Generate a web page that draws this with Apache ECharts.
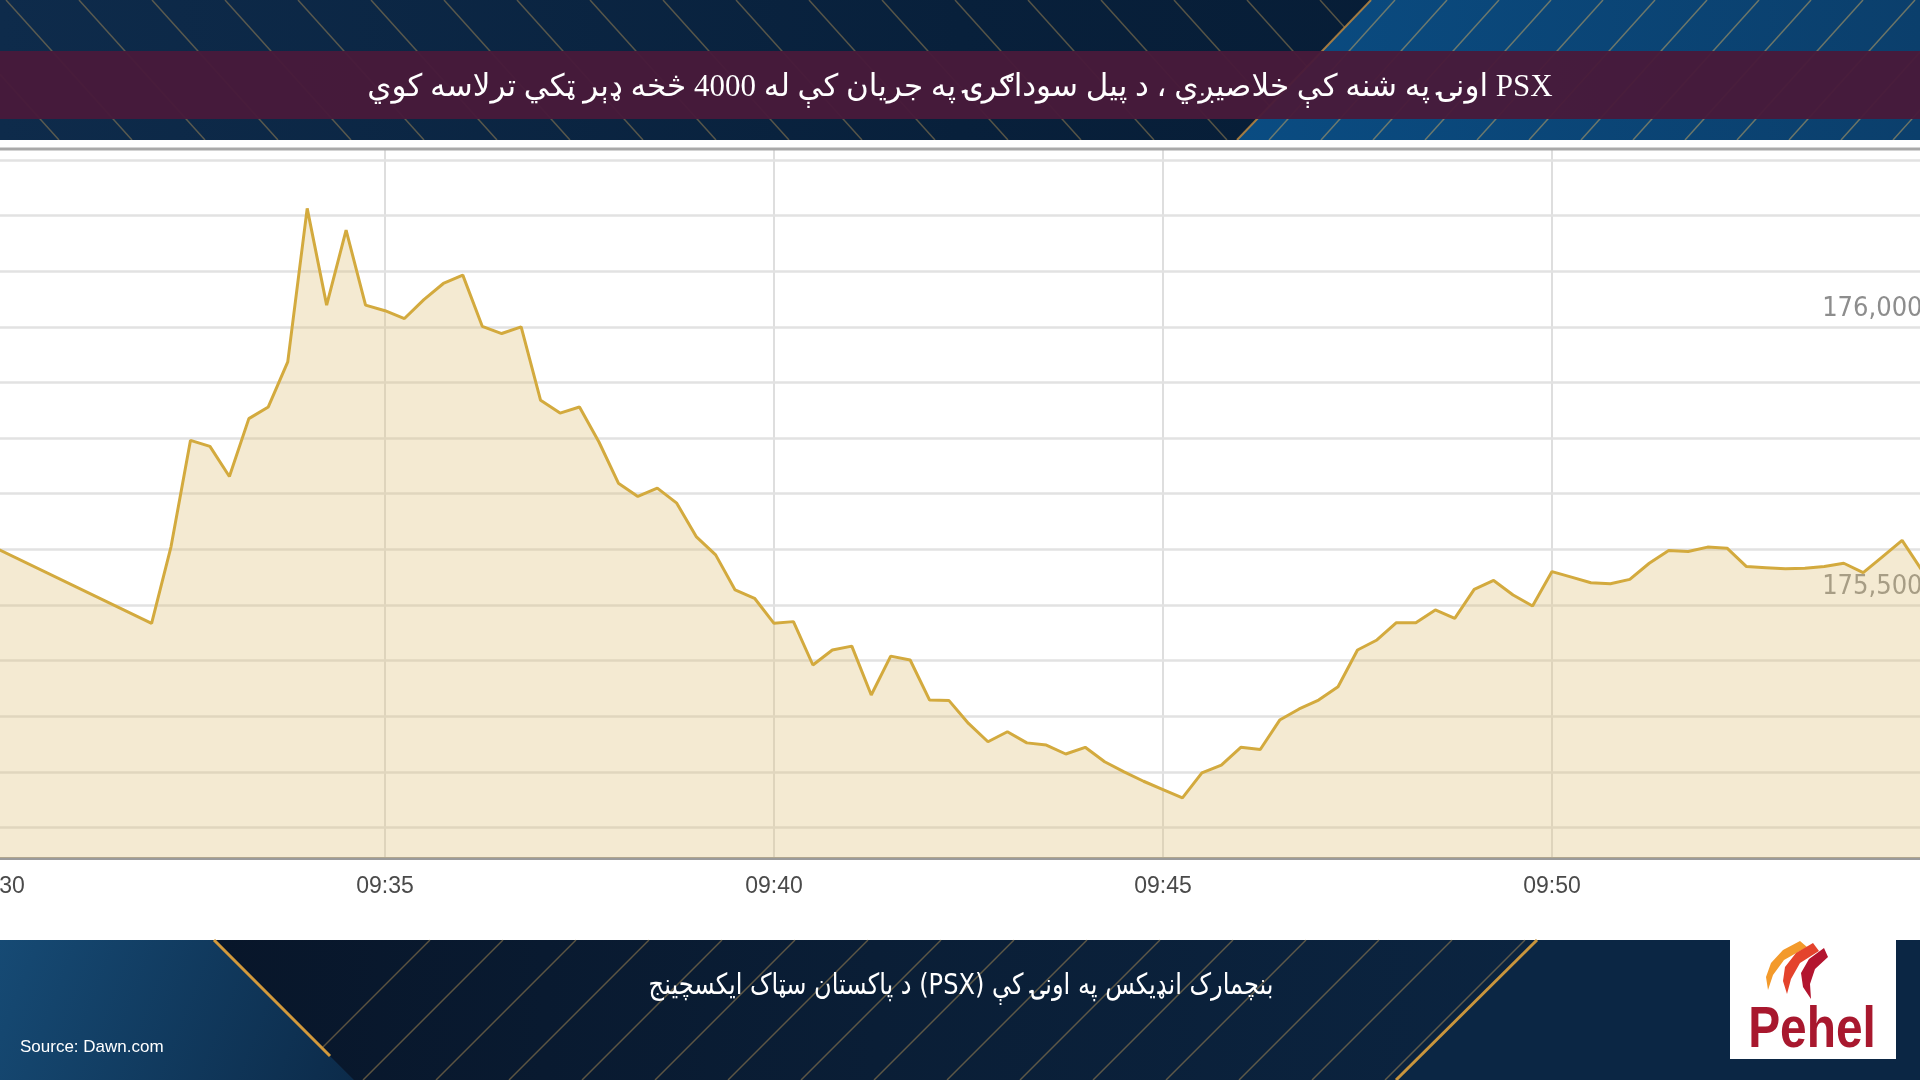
<!DOCTYPE html>
<html>
<head>
<meta charset="utf-8">
<script src="https://cdn.jsdelivr.net/npm/echarts@6/dist/echarts.min.js"></script>
<style>
html,body{margin:0;padding:0;background:#fff;}
#chart{width:1920px;height:1080px;direction:rtl;}
</style>
</head>
<body>
<div id="chart" dir="rtl"></div>
<script>
// ---------- texts ----------
const titleText = 'PSX اونۍ په شنه کې خلاصیږي ، د پیل سوداګرۍ په جریان کې له 4000 څخه ډېر ټکي ترلاسه کوي';
const captionText = 'بنچمارک انډیکس په اونۍ کې (PSX) د پاکستان سټاک ایکسچینج';
const sourceText = 'Source: Dawn.com';
const brandText = 'Pehel';

// ---------- data ----------
const times = [
 '09:30:00',
 '09:32:00','09:32:15','09:32:30','09:32:45',
 '09:33:00','09:33:15','09:33:30','09:33:45',
 '09:34:00','09:34:15','09:34:30','09:34:45',
 '09:35:00','09:35:15','09:35:30','09:35:45',
 '09:36:00','09:36:15','09:36:30','09:36:45',
 '09:37:00','09:37:15','09:37:30','09:37:45',
 '09:38:00','09:38:15','09:38:30','09:38:45',
 '09:39:00','09:39:15','09:39:30','09:39:45',
 '09:40:00','09:40:15','09:40:30','09:40:45',
 '09:41:00','09:41:15','09:41:30','09:41:45',
 '09:42:00','09:42:15','09:42:30','09:42:45',
 '09:43:00','09:43:15','09:43:30','09:43:45',
 '09:44:00','09:44:15','09:44:30','09:44:45',
 '09:45:00','09:45:15','09:45:30','09:45:45',
 '09:46:00','09:46:15','09:46:30','09:46:45',
 '09:47:00','09:47:15','09:47:30','09:47:45',
 '09:48:00','09:48:15','09:48:30','09:48:45',
 '09:49:00','09:49:15','09:49:30','09:49:45',
 '09:50:00','09:50:15','09:50:30','09:50:45',
 '09:51:00','09:51:15','09:51:30','09:51:45',
 '09:52:00','09:52:15','09:52:30','09:52:45',
 '09:53:00','09:53:15','09:53:30','09:53:45',
 '09:54:00','09:54:15','09:54:30','09:54:45'
];
const values = [
 175602,
 175467,175605,175796,175785,
 175731,175835,175856,175937,
 176213,176039,176174,176039,
 176029,176015,176049,176078,
 176093,176001,175988,176000,
 175868,175845,175856,175793,
 175719,175695,175710,175683,
 175623,175590,175527,175512,
 175467,175470,175392,175419,
 175426,175338,175408,175401,
 175329,175328,175287,175254,
 175272,175252,175248,175232,
 175244,175218,175200,175183,
 175168,175153,175198,175212,
 175244,175240,175293,175313,
 175329,175353,175419,175437,
 175468,175468,175491,175476,
 175528,175544,175518,175498,
 175560,175550,175540,175538,
 175546,175575,175598,175596,
 175604,175602,175569,175567,
 175565,175566,175569,175575,
 175558,175587,175616,175563
];
const xTickLabels = ['09:30','09:35','09:40','09:45','09:50'];
const xRange = ['09:30:00','09:54:45'];
const yRange = [175045, 176318];
const yGridValues = [175100,175200,175300,175400,175500,175600,175700,175800,175900,176000,176100,176200,176300];
const yTickLabels = [175500, 176000];

// ---------- helpers ----------
function toMin(t){ const p = t.split(':').map(Number); return p[0]*60 + p[1] + (p[2]||0)/60; }
const seriesData = times.map((t,i)=>[toMin(t), values[i]]);

const graphics = [];
let zc = 0;
function add(el){ el.z2 = zc++; el.silent = true; graphics.push(el); }

// header
add({type:'rect', shape:{x:0,y:0,width:1920,height:140},
  style:{fill:new echarts.graphic.LinearGradient(0,0,1,0,[{offset:0,color:'#0e2b4b'},{offset:0.5,color:'#08203b'},{offset:1,color:'#061a31'}])}});
add({type:'polygon', shape:{points:[[1371,0],[1920,0],[1920,140],[1237,140]]},
  style:{fill:new echarts.graphic.LinearGradient(0,0,1,0,[{offset:0,color:'#0a4c82'},{offset:1,color:'#0b3f6c'}])}});
for (let x0 = -140; x0 < 1371; x0 += 73) {
  let yEnd = 140;
  const yi = (1371 - x0) / 1.857;
  if (yi < yEnd) yEnd = yi;
  add({type:'line', shape:{x1:x0, y1:0, x2:x0 + 0.9*yEnd, y2:yEnd}, style:{stroke:'rgba(196,158,88,0.42)', lineWidth:1.5}});
}
for (let x0 = 1395; x0 < 2100; x0 += 52) {
  add({type:'line', shape:{x1:x0, y1:0, x2:x0 - 126, y2:140}, style:{stroke:'rgba(205,170,95,0.5)', lineWidth:1.5}});
}
add({type:'line', shape:{x1:1371,y1:0,x2:1237,y2:140}, style:{stroke:'rgba(200,140,60,0.8)', lineWidth:2}});
add({type:'rect', shape:{x:0,y:51,width:1920,height:68}, style:{fill:'rgba(72,26,58,0.96)'}});
// chart frame top border
add({type:'rect', shape:{x:0,y:140,width:1920,height:10}, style:{fill:'#ffffff'}});
add({type:'line', shape:{x1:0,y1:149,x2:1920,y2:149}, style:{stroke:'#a9a9a9', lineWidth:3}});

// footer
add({type:'rect', shape:{x:0,y:940,width:1920,height:140}, style:{fill:'#0b2644'}});
add({type:'polygon', shape:{points:[[0,940],[214,940],[354,1080],[0,1080]]},
  style:{fill:new echarts.graphic.LinearGradient(0,0,1,1,[{offset:0,color:'#164a74'},{offset:1,color:'#0c2b4a'}])}});
add({type:'polygon', shape:{points:[[214,940],[1537,940],[1396,1080],[354,1080]]},
  style:{fill:new echarts.graphic.LinearGradient(0,0,1,0,[{offset:0,color:'#08162a'},{offset:0.5,color:'#0a1e36'},{offset:1,color:'#0b2440'}])}});
for (let x0 = 430; x0 < 1530; x0 += 73) {
  let d = 140;
  const di = (x0 - 214) / 2;
  if (di < d) d = di;
  add({type:'line', shape:{x1:x0, y1:940, x2:x0 - d, y2:940 + d}, style:{stroke:'rgba(196,158,88,0.45)', lineWidth:1.5}});
}
add({type:'line', shape:{x1:214,y1:940,x2:330,y2:1056}, style:{stroke:'#d39a3c', lineWidth:3}});
add({type:'line', shape:{x1:1537,y1:940,x2:1396,y2:1080}, style:{stroke:'#c9953d', lineWidth:3}});

// logo
add({type:'rect', shape:{x:1730,y:940,width:166,height:119}, style:{fill:'#ffffff'}});
add({type:'polygon', shape:{points:[[1800,941],[1783,950],[1771,963],[1766,977],[1768,990],[1773,975],[1784,960],[1807,947]]}, style:{fill:'#f39a2b'}});
add({type:'polygon', shape:{points:[[1813,943],[1796,953],[1785,967],[1783,981],[1787,994],[1791,979],[1800,963],[1819,951]]}, style:{fill:'#e4432c'}});
add({type:'polygon', shape:{points:[[1824,948],[1809,959],[1801,973],[1803,987],[1811,999],[1810,984],[1815,969],[1828,957]]}, style:{fill:'#b3152f'}});
add({type:'text', x:1812, y:1031, scaleX:0.84,
  style:{text:brandText, x:0, y:0, fill:'#a8182e', font:'bold 57px "Liberation Sans", Arial, sans-serif',
         align:'center', verticalAlign:'middle', textAlign:'center', textVerticalAlign:'middle'}});

// footer texts
add({type:'text', x:20, y:1047,
  style:{text:sourceText, x:0, y:0, fill:'#ffffff', font:'17px "Liberation Sans", Arial, sans-serif',
         align:'left', verticalAlign:'middle', textAlign:'left', textVerticalAlign:'middle'}});
add({type:'text', x:961, y:986, scaleX:0.83,
  style:{text:captionText, x:0, y:0, fill:'#ffffff', font:'29px "DejaVu Sans", sans-serif',
         align:'center', verticalAlign:'middle', textAlign:'center', textVerticalAlign:'middle'}});

const chart = echarts.init(document.getElementById('chart'), null, {renderer:'canvas'});
chart.setOption({
  animation:false,
  backgroundColor:'#ffffff',
  title:{
    text:titleText, left:'center', top:72, padding:0,
    textStyle:{color:'#ffffff', fontSize:31, fontWeight:'normal', fontFamily:'"Liberation Serif", "DejaVu Sans", serif'}
  },
  graphic:{elements:graphics},
  grid:{left:-4, right:-1.55, top:150, bottom:222, containLabel:false, outerBoundsMode:'none'},
  xAxis:{
    type:'value', min:toMin(xRange[0]), max:toMin(xRange[1]), interval:5,
    axisLine:{show:true, lineStyle:{color:'#9b9b9b', width:3}},
    axisTick:{show:false},
    splitLine:{show:true, lineStyle:{color:'#dedede', width:2}},
    axisLabel:{
      show:true, margin:17, color:'#4a4a4a', fontSize:23, fontFamily:'"Liberation Sans", Arial, sans-serif',
      showMinLabel:true, showMaxLabel:false, hideOverlap:false,
      formatter:function(v){ const l = xTickLabels.find(s => Math.abs(toMin(s) - v) < 1e-6); return l || ''; }
    }
  },
  yAxis:{
    type:'value', min:yRange[0], max:yRange[1],
    axisLine:{show:false}, axisTick:{show:false}, axisLabel:{show:false}, splitLine:{show:false}
  },
  series:[{
    type:'line', data:seriesData, showSymbol:false, symbol:'none', z:3,
    lineStyle:{color:'#d3aa3e', width:3},
    itemStyle:{color:'#d3aa3e'},
    areaStyle:{color:'rgba(222,192,118,0.47)', origin:'start'},
    markLine:{
      silent:true, symbol:'none', z:1, animation:false,
      lineStyle:{color:'#e2e2e2', width:2.5, type:'solid', opacity:1},
      emphasis:{disabled:true},
      label:{
        show:true, position:'insideEndTop', distance:[-1, 4], color:'#8d8d8d', fontSize:27,
        fontFamily:'"Liberation Sans Narrow", "DejaVu Sans Condensed", "Liberation Sans", Arial, sans-serif',
        formatter:function(p){ return Number(p.value).toLocaleString('en-US'); }
      },
      data: yGridValues.map(v => ({yAxis:v, label:{show: yTickLabels.indexOf(v) >= 0}}))
    }
  }]
});
</script>
</body>
</html>
